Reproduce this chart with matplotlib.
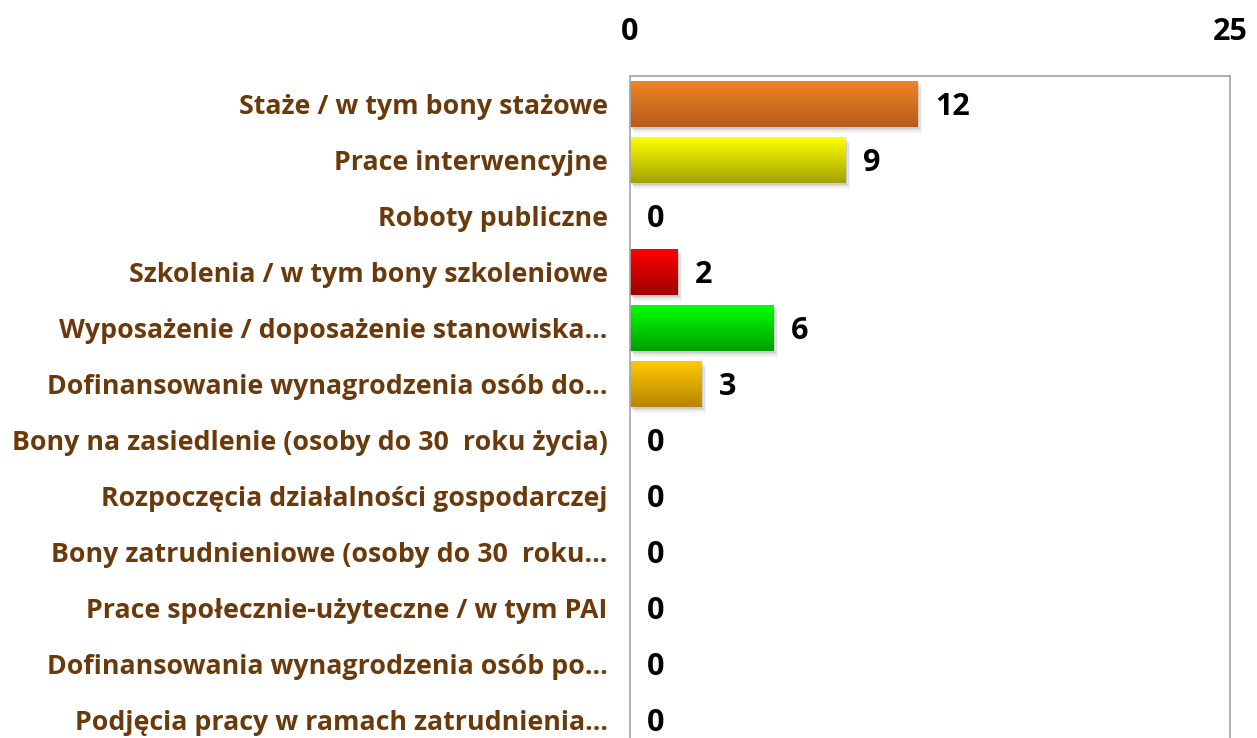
import matplotlib.pyplot as plt
import matplotlib.colors as mcolors
import numpy as np

# categories top -> bottom
categories = [
    "Staże / w tym bony stażowe",
    "Prace interwencyjne",
    "Roboty publiczne",
    "Szkolenia / w tym bony szkoleniowe",
    "Wyposażenie / doposażenie stanowiska…",
    "Dofinansowanie wynagrodzenia osób do…",
    "Bony na zasiedlenie (osoby do 30  roku życia)",
    "Rozpoczęcia działalności gospodarczej",
    "Bony zatrudnieniowe (osoby do 30  roku…",
    "Prace społecznie-użyteczne / w tym PAI",
    "Dofinansowania wynagrodzenia osób po…",
    "Podjęcia pracy w ramach zatrudnienia…",
]
values = [12, 9, 0, 2, 6, 3, 0, 0, 0, 0, 0, 0]
# gradient colours (top, bottom) per bar
top_colors = ["#EF8426", "#FFFF00", "#FF0000", "#FF0000", "#00FF00", "#FFC800",
              "#FF0000", "#FF0000", "#FF0000", "#FF0000", "#FF0000", "#FF0000"]
bottom_colors = ["#B65C1B", "#A3A300", "#A3A300", "#A00000", "#00A000", "#B88600",
                 "#A00000", "#A00000", "#A00000", "#A00000", "#A00000", "#A00000"]
xticks = [0, 25]

label_color = "#6B3A0B"
font = "Open Sans"

fig = plt.figure(figsize=(12.57, 7.38), dpi=100)
ax = fig.add_axes([630 / 1257, -10 / 738, 600 / 1257, 672 / 738])

y = np.arange(len(categories))
bars = ax.barh(y, values, height=0.82, color="none", zorder=2)
ax.set_ylim(len(categories) - 0.5, -0.5)
ax.set_xlim(0, 25)

grad = np.linspace(0, 1, 64).reshape(-1, 1)
for b, c1, c2 in zip(bars, top_colors, bottom_colors):
    w = b.get_width()
    if w <= 0:
        continue
    x0, y0, h = b.get_x(), b.get_y(), b.get_height()
    # soft shadow
    for k, a in [(0.06, 0.10), (0.12, 0.07), (0.18, 0.04)]:
        ax.add_patch(plt.Rectangle((x0 + k, y0 + k * 0.6), w, h, color="#000000",
                                   alpha=a, lw=0, zorder=1))
    cmap = mcolors.LinearSegmentedColormap.from_list("g", [c1, c2])
    ax.imshow(grad, cmap=cmap, aspect="auto", extent=(x0, x0 + w, y0 + h, y0),
              zorder=2, interpolation="bilinear")

for yi, v in zip(y, values):
    ax.text(v + 0.7, yi + 0.05, str(v), va="center", ha="left", fontsize=22,
            fontweight="bold", family=font, color="black")

ax.set_yticks(y)
ax.set_yticklabels(categories, fontsize=19.3, fontweight="bold", family=font,
                   color=label_color)
ax.xaxis.tick_top()
ax.set_xticks(xticks)
ax.set_xticklabels([str(t) for t in xticks], fontsize=22, fontweight="bold",
                   family=font)
ax.tick_params(axis="both", length=0)
ax.tick_params(axis="x", pad=21)
ax.tick_params(axis="y", pad=16)
for s in ax.spines.values():
    s.set_color("#A6A6A6")
    s.set_linewidth(1.2)

fig.savefig("out.png", dpi=100)
